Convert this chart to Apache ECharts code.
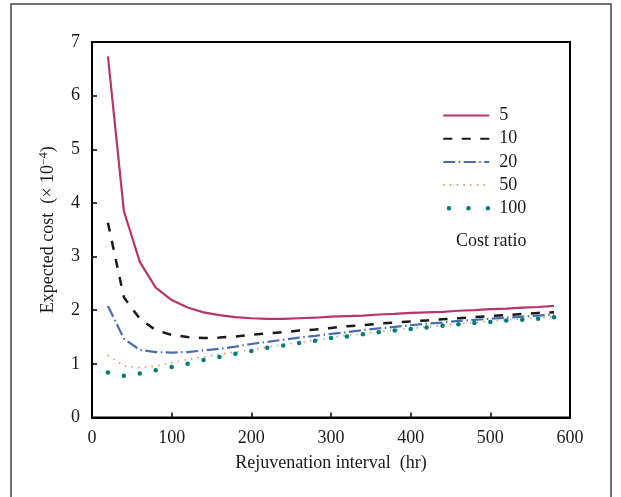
<!DOCTYPE html>
<html>
<head>
<meta charset="utf-8">
<script src="https://cdn.jsdelivr.net/npm/echarts@6/dist/echarts.min.js"></script>
<style>
  html, body { margin: 0; padding: 0; background: #fff; }
  #chart { width: 621px; height: 497px; }
</style>
</head>
<body>
<div id="chart"></div>
<script>
// Rejuvenation interval (hr) at which the expected cost was evaluated
const intervals = [20, 40, 60, 80, 100, 120, 140, 160, 180, 200, 220, 240, 260, 280, 300,
                   320, 340, 360, 380, 400, 420, 440, 460, 480, 500, 520, 540, 560, 580];

// Expected cost (x 10^-4) for each cost ratio
const ratio5   = [6.73, 3.85, 2.90, 2.42, 2.19, 2.05, 1.96, 1.91, 1.87, 1.85, 1.84, 1.84, 1.85, 1.86, 1.88,
                  1.89, 1.90, 1.92, 1.93, 1.95, 1.96, 1.97, 1.99, 2.00, 2.02, 2.03, 2.05, 2.06, 2.08];
const ratio10  = [3.63, 2.24, 1.84, 1.63, 1.54, 1.50, 1.48, 1.49, 1.51, 1.54, 1.57, 1.59, 1.62, 1.64, 1.67,
                  1.70, 1.72, 1.75, 1.77, 1.79, 1.81, 1.83, 1.85, 1.87, 1.89, 1.91, 1.93, 1.95, 1.96];
const ratio20  = [2.08, 1.47, 1.26, 1.22, 1.21, 1.22, 1.25, 1.28, 1.32, 1.37, 1.41, 1.45, 1.49, 1.52, 1.56,
                  1.59, 1.63, 1.66, 1.69, 1.72, 1.75, 1.77, 1.80, 1.82, 1.84, 1.86, 1.88, 1.90, 1.92];
const ratio50  = [1.16, 0.96, 0.93, 0.96, 1.02, 1.08, 1.13, 1.18, 1.22, 1.26, 1.31, 1.36, 1.40, 1.44, 1.49,
                  1.53, 1.56, 1.60, 1.63, 1.66, 1.69, 1.72, 1.75, 1.77, 1.80, 1.82, 1.84, 1.86, 1.88];
const ratio100 = [0.84, 0.78, 0.82, 0.88, 0.94, 1.00, 1.07, 1.13, 1.19, 1.24, 1.30, 1.34, 1.39, 1.43, 1.48,
                  1.51, 1.55, 1.59, 1.62, 1.65, 1.68, 1.71, 1.74, 1.76, 1.78, 1.81, 1.82, 1.84, 1.87];

const seriesNames = ['5', '10', '20', '50', '100'];

const xTicks = { min: 0, max: 600, step: 100 };
const yTicks = { min: 0, max: 7, step: 1 };

const FONT = '"Liberation Serif", "DejaVu Serif", serif';
const INK = '#1a1a1a';
const COLORS = ['#b8346d', INK, '#4a6db0', '#d6a468', '#007b7b'];

const pairs = (ys) => intervals.map((x, i) => [x, ys[i]]);

const chart = echarts.init(document.getElementById('chart'), null, { renderer: 'canvas' });

const axisCommon = {
  axisLine: { show: true, lineStyle: { color: '#000', width: 2 } },
  axisTick: { show: true, inside: true, length: 5, lineStyle: { color: '#000', width: 1.5 } },
  splitLine: { show: false },
  axisLabel: { fontFamily: FONT, fontSize: 18, color: INK, margin: 12 },
  nameTextStyle: { fontFamily: FONT, fontSize: 18, color: INK }
};

// legend keys show only the line pattern of each series
const hiddenMarker = { opacity: 0 };

chart.setOption({
  animation: false,
  backgroundColor: '#fff',
  graphic: [{
    type: 'rect',
    shape: { x: 11, y: 4, width: 600, height: 510 },
    style: { fill: 'none', stroke: '#444', lineWidth: 1.5 },
    silent: true
  }],
  title: {
    text: 'Cost ratio',
    left: 451, top: 227,
    textStyle: { fontFamily: FONT, fontSize: 18, fontWeight: 'normal', color: INK }
  },
  legend: {
    orient: 'vertical',
    left: 436, top: 101.5,
    itemWidth: 46, itemHeight: 14, itemGap: 5.2,
    textStyle: { fontFamily: FONT, fontSize: 18, color: INK, padding: [0, 0, 0, 5] },
    data: [
      { name: '5', itemStyle: hiddenMarker },
      { name: '10', itemStyle: hiddenMarker },
      { name: '20', itemStyle: hiddenMarker },
      { name: '50', itemStyle: hiddenMarker },
      {
        name: '100',
        lineStyle: { color: COLORS[4], width: 4.5, type: [0, 19.5], dashOffset: -5.7, cap: 'round', opacity: 1 },
        itemStyle: hiddenMarker
      }
    ]
  },
  grid: {
    left: 92, right: 51, top: 42, bottom: 79.5,
    show: true, borderColor: '#000', borderWidth: 2
  },
  xAxis: Object.assign({}, axisCommon, {
    type: 'value', min: xTicks.min, max: xTicks.max, interval: xTicks.step,
    name: 'Rejuvenation interval  (hr)', nameLocation: 'middle', nameGap: 37
  }),
  yAxis: Object.assign({}, axisCommon, {
    type: 'value', min: yTicks.min, max: yTicks.max, interval: yTicks.step,
    name: '{t|Expected cost  (× 10}{s|−4}{t|)}', nameLocation: 'middle', nameGap: 33,
    nameTextStyle: {
      fontFamily: FONT, fontSize: 18, color: INK,
      rich: {
        t: { fontFamily: FONT, fontSize: 18, color: INK },
        s: { fontFamily: FONT, fontSize: 12, color: INK, padding: [0, 0, 9, 0] }
      }
    }
  }),
  series: [
    {
      name: seriesNames[0], type: 'line', data: pairs(ratio5),
      symbol: 'none', color: COLORS[0],
      lineStyle: { color: COLORS[0], width: 2.2 }
    },
    {
      name: seriesNames[1], type: 'line', data: pairs(ratio10),
      symbol: 'none', color: COLORS[1],
      lineStyle: { color: COLORS[1], width: 2.5, type: [9, 9.5] }
    },
    {
      name: seriesNames[2], type: 'line', data: pairs(ratio20),
      symbol: 'none', color: COLORS[2],
      lineStyle: { color: COLORS[2], width: 2.2, type: [12, 3.5, 1.5, 3.5] }
    },
    {
      name: seriesNames[3], type: 'line', data: pairs(ratio50),
      symbol: 'none', color: COLORS[3],
      lineStyle: { color: COLORS[3], width: 1.8, type: [1.5, 5.2] }
    },
    {
      name: seriesNames[4], type: 'line', data: pairs(ratio100),
      symbol: 'circle', symbolSize: 4.5, showSymbol: true, color: COLORS[4],
      itemStyle: { color: COLORS[4] },
      lineStyle: { width: 0, opacity: 0 }
    }
  ]
});
</script>
</body>
</html>
